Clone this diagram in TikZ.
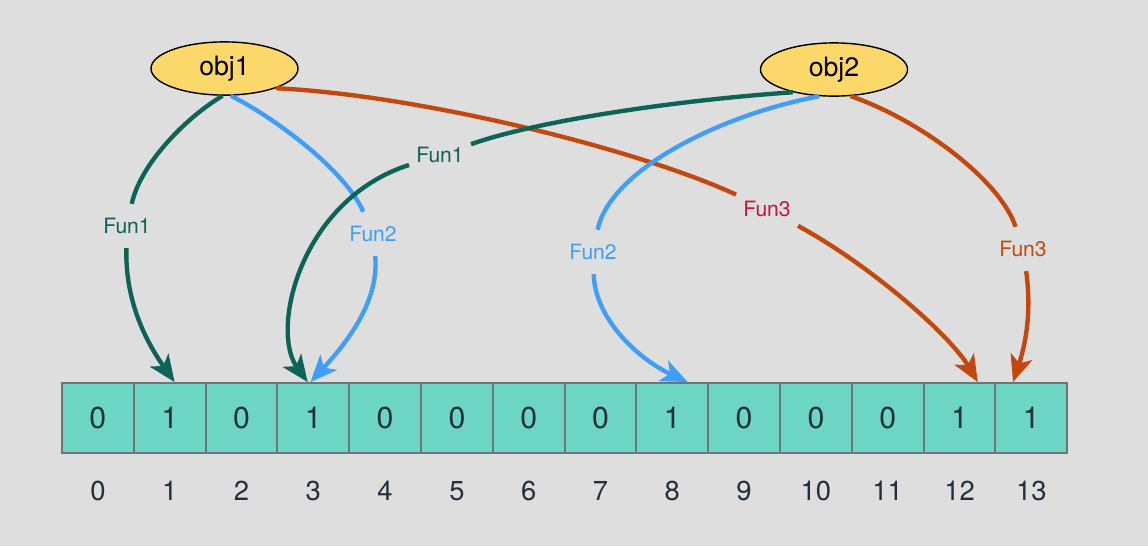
\documentclass[tikz,border=0pt]{standalone}
\usepackage{fontspec}
\setmainfont{TeX Gyre Heros}
\usetikzlibrary{arrows.meta, shapes.geometric, shadows}
\definecolor{BloomBack}{HTML}{DEDEDE}
\definecolor{BloomCell}{HTML}{6DD5C3}
\definecolor{BloomEdge}{HTML}{6F7577}
\definecolor{BloomText}{HTML}{22303B}
\definecolor{BloomObj}{HTML}{FCD86A}
\definecolor{BloomTeal}{HTML}{0E6358}
\definecolor{BloomBlue}{HTML}{409EF6}
\definecolor{BloomOrange}{HTML}{C2480E}
\definecolor{BloomRed}{HTML}{C0183C}

\begin{document}
\begin{tikzpicture}[x=0.025cm, y=-0.025cm,
    obj/.style={ellipse, draw=black, line width=1pt, fill=BloomObj, minimum width=3.675cm, minimum height=1.33cm, inner sep=0pt, font=\fontsize{19}{22}\selectfont},
    cell/.style={rectangle, draw=BloomEdge, line width=1.3pt, fill=BloomCell, minimum width=1.795cm, minimum height=1.75cm, font=\fontsize{21.5}{24}\selectfont, text=BloomText, drop shadow={shadow xshift=0.8pt, shadow yshift=-0.8pt, opacity=0.35}},
    idx/.style={font=\fontsize{19.5}{22}\selectfont, text=BloomText},
    lab/.style={inner xsep=5pt, inner ysep=10pt, font=\fontsize{15}{18}\selectfont},
    fun/.style={line width=3.1pt},
    bit/.style={fun, -{Stealth[length=19pt, width=16pt, inset=5pt]}}
  ]
  % Background
  \fill[BloomBack] (0,0) rectangle (1148,546);
  \useasboundingbox (0,0) rectangle (1148,546);

  % Bit array and indices
  \foreach \v [count=\i from 0] in {0,1,0,1,0,0,0,0,1,0,0,0,1,1} {
    \node[cell] (c\i) at ({97.9+71.8*\i},418) {\v};
    \node[idx] (n\i) at ({97.9+71.8*\i},491) {\i};
  }

  % Objects
  \node[obj] (obj1) at (224.5,68.5) {obj1};
  \node[obj] (obj2) at (834,69.5) {obj2};

  % Hash function labels
  \node[lab, text=BloomTeal] (f1a) at (127,226) {Fun1};
  \node[lab, text=BloomBlue] (f2a) at (373,234) {Fun2};
  \node[lab, text=BloomRed] (f3a) at (767,209) {Fun3};
  \node[lab, text=BloomTeal] (f1b) at (440,155) {Fun1};
  \node[lab, text=BloomBlue] (f2b) at (593,252) {Fun2};
  \node[lab, text=BloomOrange] (f3b) at (1023,249) {Fun3};

  % obj1 hashes
  \draw[fun, BloomTeal] (obj1.266) .. controls (185,118) and (140,165) .. (f1a);
  \draw[bit, BloomTeal] (f1a) .. controls (125,300) and (145,340) .. ([xshift=3.5pt]c1.north);
  \draw[fun, BloomBlue] (obj1.283) .. controls (275,118) and (345,170) .. (f2a);
  \draw[bit, BloomBlue] (f2a) .. controls (380,305) and (340,350) .. ([xshift=-2pt]c3.north);
  \draw[fun, BloomOrange] (obj1.339) .. controls (420,95) and (640,150) .. (f3a);
  \draw[bit, BloomOrange] (f3a) .. controls (870,265) and (950,335) .. ([xshift=13pt]c12.north);

  % obj2 hashes
  \draw[fun, BloomTeal] (obj2.209) .. controls (680,100) and (540,120) .. (f1b);
  \draw[bit, BloomTeal] (f1b) .. controls (300,200) and (270,330) .. ([xshift=-4pt]c3.north);
  \draw[fun, BloomBlue] (obj2.241) .. controls (720,115) and (610,170) .. (f2b);
  \draw[bit, BloomBlue] (f2b) .. controls (595,320) and (640,360) .. ([xshift=11pt]c8.north);
  \draw[fun, BloomOrange] (obj2.302) .. controls (920,120) and (1000,180) .. (f3b);
  \draw[bit, BloomOrange] (f3b) .. controls (1033,320) and (1022,355) .. ([xshift=-13pt]c13.north);
\end{tikzpicture}
\end{document}
